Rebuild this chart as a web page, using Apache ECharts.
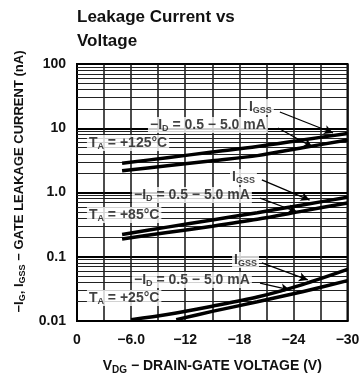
<!DOCTYPE html>
<html>
<head>
<meta charset="utf-8">
<script src="https://cdn.jsdelivr.net/npm/echarts@6/dist/echarts.min.js"></script>
<style>html,body{margin:0;padding:0;background:#fff;}#c{width:360px;height:375px;}</style>
</head>
<body>
<div id="c"></div>
<script>
// ---- data ----
const xTickLabels = ['0', '−6.0', '−12', '−18', '−24', '−30'];
const yTickLabels = {'-2': '0.01', '-1': '0.1', '0': '1.0', '1': '10', '2': '100'};

const volts125 = [-5, -10, -15, -20, -25, -30];
const igss125  = [2.85, 3.48, 4.26, 5.2, 6.58, 8.3];
const id125    = [2.18, 2.61, 3.13, 3.75, 4.97, 6.58];

const volts85  = [-5, -10, -15, -20, -25, -30];
const igss85   = [0.222, 0.289, 0.374, 0.485, 0.64, 0.843];
const id85     = [0.189, 0.238, 0.299, 0.383, 0.513, 0.687];

const voltsIgss25 = [-6, -10, -15, -20, -25, -30];
const igss25      = [0.0105, 0.01265, 0.017, 0.0236, 0.0369, 0.0635];
const voltsId25   = [-11, -15, -20, -25, -30];
const id25        = [0.0105, 0.0141, 0.0199, 0.0286, 0.0425];

const minorGridValues = [
  0.02, 0.03, 0.04, 0.05, 0.06, 0.07, 0.08, 0.09,
  0.2, 0.3, 0.4, 0.5, 0.6, 0.7, 0.8, 0.9,
  2, 3, 4, 5, 6, 7, 8, 9,
  20, 30, 40, 50, 60, 70, 80, 90
];

const annoIgss = '{t|I}{s|GSS}';
const annoId = '{t|−I}{s|D}{t| = 0.5 − 5.0 mA}';
const annoTexts = [annoIgss, annoId, '{t|T}{s|A}{t| = +125°C}',
                   annoIgss, annoId, '{t|T}{s|A}{t| = +85°C}',
                   annoIgss, annoId, '{t|T}{s|A}{t| = +25°C}'];
const annoAnchors = [[-18.85, 21.4], [-7.87, 11.2], [-1.1, 5.9],
                     [-16.97, 1.74], [-6.1, 0.914], [-1.1, 0.446],
                     [-17.2, 0.089], [-6.1, 0.0435], [-1.1, 0.0228]];
const arrows = [
  [[-22.5, 17.9], [-28.4, 8.43]],
  [[-22.3, 10.1], [-26.1, 5.1]],
  [[-20.5, 1.57], [-25.8, 0.763]],
  [[-20.3, 0.82], [-24.4, 0.497]],
  [[-20.5, 0.080], [-25.6, 0.0435]],
  [[-20.3, 0.039], [-23.6, 0.0304]]
];

// ---- chart ----
const FONT = '"Liberation Sans", Arial, sans-serif';
const NARROW = '"Liberation Sans Narrow", "Liberation Sans", Arial, sans-serif';
const zip = (xs, ys) => xs.map((x, i) => [x, ys[i]]);
const richText = {
  t: {fontSize: 14, fontWeight: 'bold', color: '#111', fontFamily: FONT},
  s: {fontSize: 9, fontWeight: 'bold', color: '#111', fontFamily: FONT, padding: [7, 0, 0, 0]}
};
const curve = (data) => ({
  type: 'line', data: data, showSymbol: false, smooth: 0.3, z: 5,
  lineStyle: {color: '#000', width: 3.5}
});

const chart = echarts.init(document.getElementById('c'), null, {renderer: 'canvas'});
chart.setOption({
  animation: false,
  backgroundColor: '#fff',
  title: {
    text: 'Leakage Current vs\nVoltage',
    left: 72, top: 0,
    textStyle: {fontSize: 17, fontWeight: 'bold', color: '#111', fontFamily: FONT, lineHeight: 24}
  },
  grid: {left: 77, right: 12.5, top: 64, bottom: 54, containLabel: false, outerBoundsMode: 'none',
         show: true, borderColor: '#000', borderWidth: 2, backgroundColor: 'transparent'},
  xAxis: {
    type: 'value', min: -30, max: 0, interval: 3, inverse: true,
    axisLine: {show: true, lineStyle: {color: '#000', width: 2}},
    axisTick: {show: false},
    splitLine: {show: true, lineStyle: {color: '#111', width: 1.5}},
    axisLabel: {
      margin: 12, fontSize: 14, fontWeight: 'bold', color: '#111', fontFamily: FONT,
      hideOverlap: false,
      formatter: (v) => (Math.round(v) % 6 === 0 ? xTickLabels[Math.round(-v / 6)] : '')
    },
    name: '{t|V}{s|DG}{t| − DRAIN-GATE VOLTAGE (V)}',
    nameLocation: 'middle', nameGap: 37,
    nameTextStyle: {rich: {
      t: {fontSize: 14, fontWeight: 'bold', color: '#111', fontFamily: FONT},
      s: {fontSize: 10, fontWeight: 'bold', color: '#111', fontFamily: FONT, padding: [7, 0, 0, 0]}
    }}
  },
  yAxis: {
    type: 'log', logBase: 10, min: 0.01, max: 100,
    axisLine: {show: true, lineStyle: {color: '#000', width: 2}},
    axisTick: {show: false},
    splitLine: {show: true, lineStyle: {color: '#000', width: 1.8}},
    axisLabel: {
      margin: 11, fontSize: 14, fontWeight: 'bold', color: '#111', fontFamily: FONT,
      formatter: (v) => yTickLabels[String(Math.round(Math.log10(v)))] || ''
    },
    name: '{t|−I}{s|G}{t|, I}{s|GSS}{t| − GATE LEAKAGE CURRENT (nA)}',
    nameLocation: 'middle', nameGap: 50,
    nameTextStyle: {padding: [0, 0, 0, 22], rich: {
      t: {fontSize: 13, fontWeight: 'bold', color: '#111', fontFamily: NARROW},
      s: {fontSize: 9, fontWeight: 'bold', color: '#111', fontFamily: NARROW, padding: [6, 0, 0, 0]}
    }}
  },
  series: [
    {
      type: 'line', data: [], z: 1, silent: true,
      markLine: {
        silent: true, symbol: 'none', animation: false, z: 1,
        label: {show: false},
        lineStyle: {color: '#222', width: 1, type: 'solid'},
        data: minorGridValues.map(v => ({yAxis: v}))
      }
    },
    curve(zip(volts125, igss125)),
    curve(zip(volts125, id125)),
    curve(zip(volts85, igss85)),
    curve(zip(volts85, id85)),
    curve(zip(voltsIgss25, igss25)),
    curve(zip(voltsId25, id25)),
    {
      type: 'scatter', z: 4, symbolSize: 0, silent: true,
      data: annoAnchors.map((c, i) => ({value: c, label: {formatter: annoTexts[i]}})),
      label: {
        show: true, position: 'right', distance: 0,
        backgroundColor: '#fff', padding: [0, 2, 0, 2],
        rich: richText
      },
      markLine: {
        silent: true, animation: false, z: 6,
        symbol: ['none', 'arrow'], symbolSize: [7, 9],
        label: {show: false},
        lineStyle: {color: '#000', width: 1.3, type: 'solid'},
        data: arrows.map(a => [{coord: a[0]}, {coord: a[1]}])
      }
    }
  ]
});
</script>
</body>
</html>
